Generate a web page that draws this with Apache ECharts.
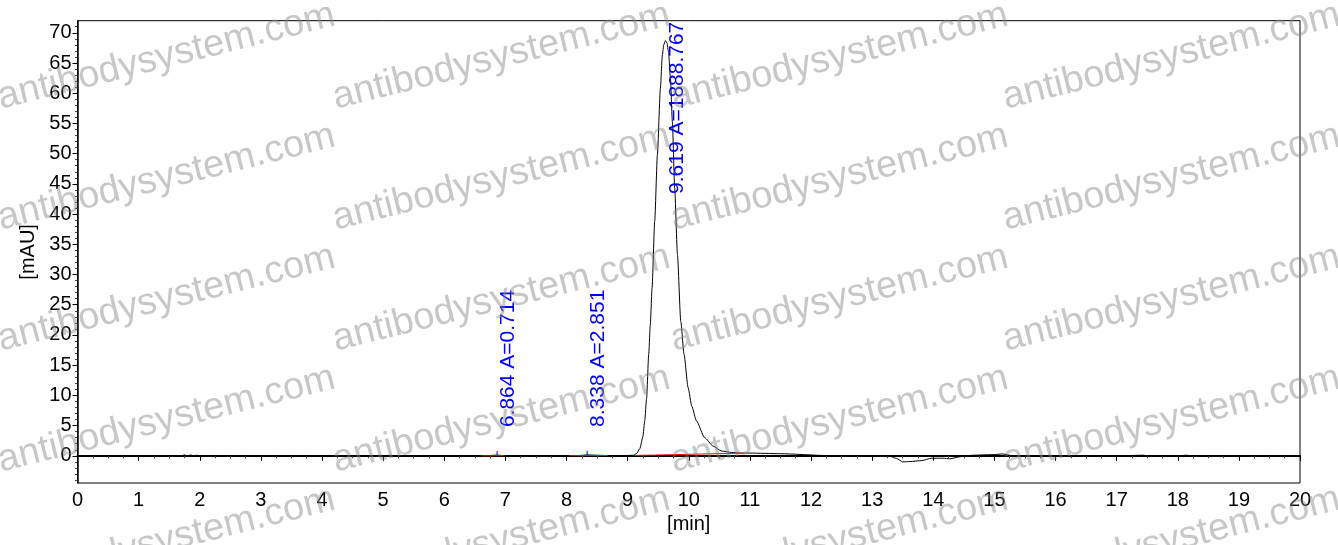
<!DOCTYPE html>
<html>
<head>
<meta charset="utf-8">
<script src="https://cdn.jsdelivr.net/npm/echarts@6/dist/echarts.min.js"></script>
<style>
html, body { margin: 0; padding: 0; background: #fff; }
#chart { width: 1338px; height: 545px; }
</style>
</head>
<body>
<div id="chart"></div>
<script>
// 色谱曲线 (min / mAU)
var times = [0, 1.70, 1.75, 1.80, 1.85, 1.90, 1.95, 2.0, 2.05, 3, 4, 5, 6, 6.6, 6.75, 6.86, 6.98, 7.2,
	8.0, 8.2, 8.34, 8.5, 8.7, 9.0, 9.1, 9.15, 9.2, 9.25, 9.28, 9.31, 9.345, 9.37, 9.40, 9.443, 9.487,
	9.536, 9.569, 9.59, 9.619, 9.645, 9.67, 9.70, 9.732, 9.77, 9.815, 9.869, 9.923, 9.989, 10.05, 10.125,
	10.26, 10.4, 10.535, 10.7, 10.85, 11.0, 11.5, 12.25, 13.2, 13.3, 13.4, 13.5, 13.62, 13.81, 13.97,
	14.16, 14.27, 14.44, 14.65, 14.98, 15.14, 15.3, 15.7, 17.0, 17.45, 17.5, 18.0, 18.15, 18.2, 20]
var signal = [0, 0, 0.15, -0.1, 0.15, -0.05, 0.1, 0, 0, 0, 0, 0, 0, 0, 0.05, 0.12, 0.02, 0,
	0, 0.05, 0.15, 0.1, 0.02, 0.05, 0.1, 0.4, 1.2, 3.2, 5.8, 9.5, 16.8, 21.5, 27.8, 38.8, 49.8,
	60.8, 66.4, 68.0, 68.7, 68.3, 66.8, 62.5, 55.3, 44.3, 33.3, 22.3, 16.8, 11.3, 8.2, 5.8,
	3.0, 1.6, 0.8, 0.55, 0.45, 0.45, 0.35, 0.05, 0.05, -0.1, -0.45, -1.0, -0.95, -0.8, -0.4,
	-0.4, -0.5, -0.15, 0.1, 0.2, 0.3, 0, 0, 0, 0.1, -0.1, 0, 0.1, 0, 0]
// 峰信息
var peakTimes = [6.864, 8.338, 9.619]
var peakHeights = [0.12, 0.15, 68.7]
var peakAreas = ['0.714', '2.851', '1888.767']
// 积分基线 (起点 / 终点)
var baseStart = [[6.61, 0], [8.05, 0.02], [9.12, 0.05]]
var baseEnd = [[6.99, 0.02], [8.67, 0.05], [10.9, 0.45]]
// 坐标轴
var yTicks = [0, 5, 10, 15, 20, 25, 30, 35, 40, 45, 50, 55, 60, 65, 70]
var yMin = -4.5, yMax = 72
var xMin = 0, xMax = 20

var yMinorTicks = []
for (var v = -4; v <= 71; v++) {
	if (v % 5 !== 0) yMinorTicks.push(v)
}

var font = 'Arial, "Liberation Sans", sans-serif'
var labelFont = '21px Arial, "Liberation Sans", sans-serif'
var measureCtx = document.createElement('canvas').getContext('2d')
measureCtx.font = labelFont

// 峰标注 (竖排蓝字)
function renderPeakLabel(params, api) {
	var i = params.dataIndex
	var p = api.coord([api.value(0), api.value(1)])
	var text = peakTimes[i].toFixed(3) + ' A=' + peakAreas[i]
	var w = measureCtx.measureText(text).width
	var top = params.coordSys.y
	var bottom = p[1] - 28
	var children = []
	if (bottom - w < top) {
		bottom = top + w + 1
	} else {
		children.push({
			type: 'line',
			shape: { x1: p[0], y1: p[1], x2: p[0], y2: p[1] - 4 },
			style: { stroke: '#0000ff', lineWidth: 1 }
		})
	}
	children.push({
		type: 'text',
		x: p[0] + 1,
		y: bottom,
		rotation: Math.PI / 2,
		style: { text: text, font: labelFont, fill: '#0000ff', align: 'left', verticalAlign: 'top' }
	})
	return { type: 'group', children: children }
}

// 水印
var markCols = [3, 338, 676, 1008]
var marks = []
markCols.forEach(function (x) {
	for (var r = 0; r < 5; r++) {
		marks.push({
			type: 'text',
			x: x,
			y: 117 + r * 121,
			rotation: 14 * Math.PI / 180,
			z: 100,
			silent: true,
			style: {
				text: 'antibodysystem.com',
				font: '38px Arial, "Liberation Sans", sans-serif',
				fill: 'rgba(130,130,130,0.45)',
				align: 'left',
				verticalAlign: 'bottom'
			}
		})
	}
})

var curve = times.map(function (t, i) { return [t, signal[i]] })
var baseSeries = baseStart.map(function (s, i) {
	return {
		type: 'line',
		data: [s, baseEnd[i]],
		symbol: 'none',
		lineStyle: { color: '#ff0000', width: 1 },
		z: 4,
		silent: true
	}
})

var chart = echarts.init(document.getElementById('chart'))
chart.setOption({
	animation: false,
	backgroundColor: '#fff',
	grid: {
		left: 77.5, right: 38, top: 20.7, bottom: 62,
		show: true, borderColor: '#000', borderWidth: 1,
		outerBoundsMode: 'none'
	},
	xAxis: {
		type: 'value', min: xMin, max: xMax, interval: 1,
		name: '[min]', nameLocation: 'middle', nameGap: 28,
		nameTextStyle: { fontSize: 20, color: '#000', fontFamily: font },
		axisLine: { show: true, lineStyle: { color: '#000', width: 2 } },
		axisTick: { show: true, length: 5, lineStyle: { color: '#000' } },
		minorTick: { show: true, splitNumber: 4, length: 2.5, lineStyle: { color: '#444' } },
		axisLabel: { fontSize: 20, color: '#000', margin: 7, fontFamily: font },
		splitLine: { show: false }
	},
	yAxis: [{
		type: 'value', min: yMin, max: yMax, position: 'left',
		name: '[mAU]', nameLocation: 'middle', nameGap: 37,
		nameTextStyle: { fontSize: 20, color: '#000', fontFamily: font },
		axisLine: { show: true, lineStyle: { color: '#000', width: 1.5 } },
		axisTick: { show: true, length: 5, customValues: yTicks, lineStyle: { color: '#000' } },
		axisLabel: { customValues: yTicks, fontSize: 20, color: '#000', margin: 6, fontFamily: font },
		splitLine: { show: false }
	}, {
		type: 'value', min: yMin, max: yMax, position: 'left', offset: 0,
		axisLine: { show: false },
		axisTick: { show: true, length: 2.5, customValues: yMinorTicks, lineStyle: { color: '#444' } },
		axisLabel: { show: false },
		splitLine: { show: false }
	}],
	graphic: marks,
	series: [{
		type: 'line',
		data: curve,
		symbol: 'none',
		smooth: 0.2,
		smoothMonotone: 'x',
		lineStyle: { color: '#000', width: 1 },
		z: 3,
		silent: true
	}].concat(baseSeries).concat([{
		type: 'custom',
		clip: false,
		z: 5,
		data: peakTimes.map(function (t, i) { return [t, peakHeights[i]] }),
		renderItem: renderPeakLabel
	}])
})
</script>
</body>
</html>
